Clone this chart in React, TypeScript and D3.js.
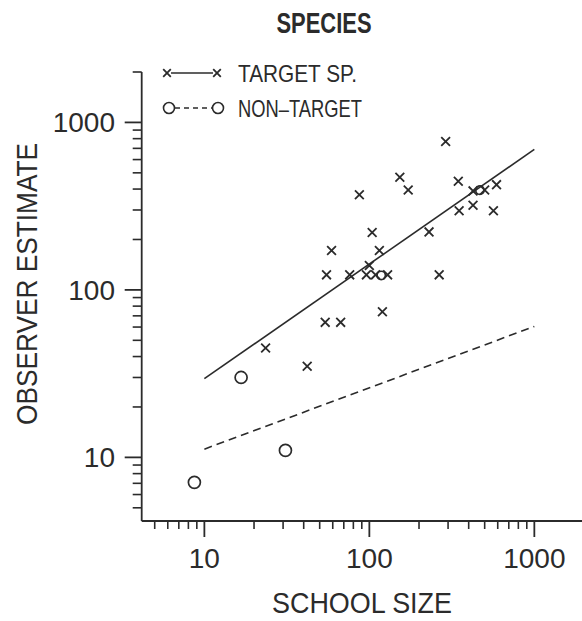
import React from "react";
import * as d3 from "d3";

const targetSize = [290, 153, 346, 87, 172, 425, 500, 590, 350, 425, 565, 104, 230, 59, 115, 100, 55, 76, 96, 109, 129, 265, 120, 54, 67, 23.5, 42];
const targetEst = [770, 470, 445, 370, 395, 390, 395, 425, 297, 320, 297, 220, 222, 172, 172, 140, 123, 123, 123, 123, 123, 123, 74, 64, 64, 45, 35];
const nonSize = [16.7, 31, 8.7];
const nonEst = [30, 11, 7.1];
const nonSizeInCluster = [118, 468];
const nonEstInCluster = [122, 394];
const fitSize = [10, 1000];
const targetFit = [29.5, 690];
const nonFit = [11.2, 60.5];
const majorTicks = [10, 100, 1000];
const tickLabels = ["10", "100", "1000"];

const INK = "#2b2b2b";
const FONT = "'Liberation Sans', Arial, sans-serif";

export default function App() {
  const x = d3.scaleLog().domain([4.17, 2000]).range([141.7, 584]);
  const y = d3.scaleLog().domain([4.17, 2000]).range([521, 72]);
  const minor = x.ticks().filter((t) => !majorTicks.includes(t));
  const minorY = y.ticks().filter((t) => !majorTicks.includes(t));
  const line = d3
    .line<[number, number]>()
    .x((d) => x(d[0]))
    .y((d) => y(d[1]));
  const tPts: [number, number][] = fitSize.map((s, i) => [s, targetFit[i]]);
  const nPts: [number, number][] = fitSize.map((s, i) => [s, nonFit[i]]);
  const cross = (cx: number, cy: number, r: number, k: string) => (
    <path key={k} d={`M${cx - r},${cy - r}L${cx + r},${cy + r}M${cx - r},${cy + r}L${cx + r},${cy - r}`} stroke={INK} strokeWidth={1.8} fill="none" />
  );
  const x0 = x.range()[0];
  const y0 = y.range()[0];
  return (
    <svg width={582} height={621} style={{ position: "absolute", left: 0, top: 0, background: "#fff" }} fontFamily={FONT}>
      <text x={324} y={33} fontSize={29} fontWeight="bold" textAnchor="middle" fill={INK} textLength={95} lengthAdjust="spacingAndGlyphs">SPECIES</text>
      {/* axes */}
      <line x1={x0} y1={y.range()[1]} x2={x0} y2={y0} stroke={INK} strokeWidth={1.8} />
      <line x1={x0} y1={y0} x2={590} y2={y0} stroke={INK} strokeWidth={1.8} />
      {minorY.map((t, i) => (
        <line key={"my" + i} x1={x0 - 9} x2={x0} y1={y(t)} y2={y(t)} stroke={INK} strokeWidth={1.6} />
      ))}
      {majorTicks.map((t, i) => (
        <g key={"My" + i}>
          <line x1={x0 - 17} x2={x0} y1={y(t)} y2={y(t)} stroke={INK} strokeWidth={1.8} />
          <text x={115} y={y(t) + 10} fontSize={28} textAnchor="end" fill={INK}>{tickLabels[i]}</text>
        </g>
      ))}
      {minor.map((t, i) => (
        <line key={"mx" + i} y1={y0} y2={y0 + 8} x1={x(t)} x2={x(t)} stroke={INK} strokeWidth={1.6} />
      ))}
      {majorTicks.map((t, i) => (
        <g key={"Mx" + i}>
          <line y1={y0} y2={y0 + 16} x1={x(t)} x2={x(t)} stroke={INK} strokeWidth={1.8} />
          <text x={x(t)} y={568} fontSize={28} textAnchor="middle" fill={INK}>{tickLabels[i]}</text>
        </g>
      ))}
      <text x={362} y={613} fontSize={30} textAnchor="middle" fill={INK} textLength={180} lengthAdjust="spacingAndGlyphs">SCHOOL  SIZE</text>
      <text transform="translate(37,284) rotate(-90)" fontSize={30} textAnchor="middle" fill={INK} textLength={282} lengthAdjust="spacingAndGlyphs">OBSERVER  ESTIMATE</text>
      {/* fits */}
      <path d={line(tPts) || ""} stroke={INK} strokeWidth={1.6} fill="none" />
      <path d={line(nPts) || ""} stroke={INK} strokeWidth={1.6} fill="none" strokeDasharray="8,5" />
      {/* points */}
      {targetSize.map((s, i) => cross(x(s), y(targetEst[i]), 4.4, "t" + i))}
      {nonSize.map((s, i) => (
        <circle key={"n" + i} cx={x(s)} cy={y(nonEst[i])} r={6} stroke={INK} strokeWidth={1.7} fill="none" />
      ))}
      {nonSizeInCluster.map((s, i) => (
        <circle key={"nc" + i} cx={x(s)} cy={y(nonEstInCluster[i])} r={4.2} stroke={INK} strokeWidth={1.7} fill="none" />
      ))}
      {/* legend */}
      {cross(167, 73, 3.8, "l1")}
      {cross(217, 73, 3.8, "l2")}
      <line x1={171} x2={213} y1={73} y2={73} stroke={INK} strokeWidth={1.6} />
      <text x={238} y={82} fontSize={24} fill={INK} textLength={119} lengthAdjust="spacingAndGlyphs">TARGET  SP.</text>
      <circle cx={169} cy={108} r={5.5} stroke={INK} strokeWidth={1.6} fill="none" />
      <circle cx={218} cy={108} r={5.5} stroke={INK} strokeWidth={1.6} fill="none" />
      <line x1={175} x2={212} y1={108} y2={108} stroke={INK} strokeWidth={1.6} strokeDasharray="5,4" />
      <text x={238} y={117} fontSize={24} fill={INK} textLength={124} lengthAdjust="spacingAndGlyphs">NON–TARGET</text>
    </svg>
  );
}
